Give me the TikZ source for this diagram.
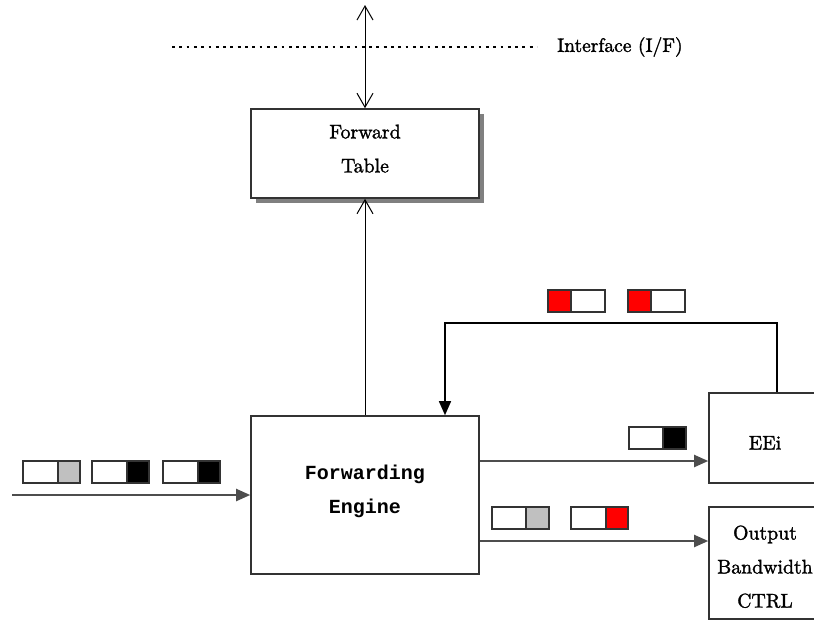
\documentclass[tikz,border=0pt]{standalone}
\usepackage{fontspec}
\newfontfamily\codefont{Liberation Mono}
\newfontfamily\textserif{lmroman10-regular.otf}[FakeBold=1.5]
\usetikzlibrary{arrows.meta,shadows}

\definecolor{edge}{RGB}{51,51,51}
\definecolor{wire}{RGB}{77,77,77}
\definecolor{cellgray}{RGB}{192,192,192}
\definecolor{cellred}{RGB}{255,0,0}

\tikzset{
  % a packet: two cells side by side, 57 wide and 22 high, split at #3
  pics/pkt/.style n args={3}{code={
    \draw[draw=edge, line width=1.5pt, fill=#1] (0,0) rectangle (#3,22);
    \draw[draw=edge, line width=1.5pt, fill=#2] (#3,0) rectangle (57,22);
  }}
}

\begin{document}
\begin{tikzpicture}[x=1pt,y=-1pt,
  box/.style={draw=edge, line width=1.6pt, fill=white, inner sep=0pt,
    align=center, font=\textserif\fontsize{19.8}{34}\selectfont},
  codebox/.style={box, font=\codefont\bfseries\fontsize{20}{34}\selectfont},
  caption/.style={inner sep=0pt, font=\textserif\fontsize{19.5}{24}\selectfont},
  flow/.style={draw=wire, line width=2pt, -{Triangle[length=14pt,width=12pt]}},
  link/.style={draw=black, line width=1pt,
    -{Straight Barb[length=14pt,width=16pt,line width=1pt]}},
  twoway/.style={draw=black, line width=1pt,
    {Straight Barb[length=14pt,width=16pt,line width=1pt]}-{Straight Barb[length=14pt,width=16pt,line width=1pt]}},
  ifline/.style={draw=black, line width=2.8pt, dash pattern=on 2.8pt off 4.5pt},
]
\useasboundingbox (0,0) rectangle (814,622);

% blocks
\node[box, minimum width=228, minimum height=89,
  drop shadow={shadow xshift=5pt, shadow yshift=-5pt, fill=gray, opacity=1},
  text depth=10pt] (ft) at (365,153.5) {Forward\\Table};
\node[codebox, minimum width=228, minimum height=158, text depth=12pt]
  (fe) at (365,495) {Forwarding\\Engine};
\node[box, minimum width=112, minimum height=90, text height=23pt, text depth=0pt]
  (eei) at (765,438) {EEi};
\node[box, minimum width=112, minimum height=112, text height=89pt, text depth=0pt]
  (out) at (765,563) {Output\\Bandwidth\\CTRL};

% interface line and its label
\node[caption, anchor=west] (iflabel) at (557,47) {Interface (I/F)};
\coordinate (ifstart) at (172,47);
\draw[ifline] (ifstart) -- ([xshift=-20pt]iflabel.west);

% table access through the interface
\coordinate (iftop) at (365,5);
\draw[twoway] (iftop) -- (ft.north);
\draw[link] (fe.north) -- (ft.south);

% packet flow
\coordinate (src) at (12,495);
\draw[flow] (src) -- (fe.west);
\draw[flow] (fe.east |- 0,461) -- (eei.west |- 0,461);
\draw[flow] (fe.east |- 0,541) -- (out.west |- 0,541);

% feedback from EEi to the engine
\coordinate (fbR) at (777,323);
\coordinate (fbL) at (445,323);
\draw[flow, draw=black, line width=1.5pt] (eei.north -| fbR) -- (fbR) -- (fbL) -- (fe.north -| fbL);

% packets
\pic at (23,461) {pkt={white}{cellgray}{35}};
\pic at (92,461) {pkt={white}{black}{35}};
\pic at (163,461) {pkt={white}{black}{35}};
\pic at (548,290) {pkt={cellred}{white}{23}};
\pic at (628,290) {pkt={cellred}{white}{23}};
\pic at (629,427) {pkt={white}{black}{34}};
\pic at (492,507) {pkt={white}{cellgray}{34}};
\pic at (571,507) {pkt={white}{cellred}{35}};
\end{tikzpicture}
\end{document}
